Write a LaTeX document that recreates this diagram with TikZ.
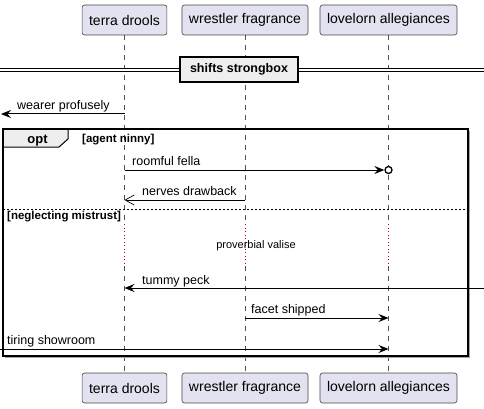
\documentclass[tikz,border=0pt]{standalone}
\usepackage{fontspec}
\setmainfont{Liberation Sans}
\usetikzlibrary{arrows.meta,positioning}
\definecolor{partfill}{HTML}{E2E2F0}
\definecolor{partline}{HTML}{181818}
\definecolor{delayred}{HTML}{A80036}
\definecolor{tabfill}{HTML}{EEEEEE}

\tikzset{
  part/.style={draw=partline!80, fill=partfill, rounded corners=2.5pt, line width=0.6pt,
    minimum height=30pt, inner xsep=7pt, font=\fontsize{14}{16}\selectfont},
  lifeline/.style={draw=partline!75, line width=0.7pt, dash pattern=on 5pt off 5pt},
  delayline/.style={draw=delayred, line width=0.9pt, dash pattern=on 1pt off 2.5pt},
  msg/.style={line width=1pt, -{Stealth[length=10pt,width=8pt,inset=3.5pt]}},
  asyncmsg/.style={line width=1pt, -{Straight Barb[length=9pt,width=10pt,line width=0.7pt]}},
  lbl/.style={font=\fontsize{12.5}{14}\selectfont, inner sep=0pt, anchor=base west},
  grplbl/.style={font=\bfseries\fontsize{11.5}{13}\selectfont, inner sep=0pt, anchor=base west}
}

\begin{document}
\begin{tikzpicture}[x=1pt,y=-1pt]
  \useasboundingbox (0,0) rectangle (484,409);

  \node[part] (td-top) at (124.5,20) {terra drools};
  \node[part] (wf-top) at (245,20) {wrestler fragrance};
  \node[part] (la-top) at (388.5,20) {lovelorn allegiances};
  \node[part] (td-bot) at (124.5,388) {terra drools};
  \node[part] (wf-bot) at (245,388) {wrestler fragrance};
  \node[part] (la-bot) at (388.5,388) {lovelorn allegiances};

  % rows of the messages
  \coordinate (r1) at (0,114);
  \coordinate (r2) at (0,170);
  \coordinate (r3) at (0,200);
  \coordinate (r4) at (0,288);
  \coordinate (r5) at (0,318);
  \coordinate (r6) at (0,349);
  \coordinate (dA) at (0,224);
  \coordinate (dB) at (0,266);

  \foreach \p in {td,wf,la}{
    \draw[lifeline] (\p-top.south) -- (\p-top |- dA);
    \draw[delayline] (\p-top |- dA) -- (\p-top |- dB);
    \draw[lifeline] (\p-top |- dB) -- (\p-bot.north);
  }

  % divider
  \draw[line width=0.9pt, double, double distance=2.4pt] (0,70) -- (484,70);
  \node[draw, line width=1.4pt, fill=tabfill, minimum width=118pt, minimum height=25pt,
    font=\bfseries\fontsize{12.5}{14}\selectfont] (divider) at (239,69.5) {shifts strongbox};

  \coordinate (w-end) at (1,114);
  \draw[msg] (td-top |- r1) -- (w-end);
  \node[lbl] (w-lbl) at (17,109.5) {wearer profusely};

  % opt frame
  \coordinate (frameTL) at (3,129);
  \coordinate (frameBR) at (468,356);
  \draw[black!35, line width=1.5pt] (469.5,131) -- (469.5,357.5) -- (5,357.5);
  \draw[line width=1pt, fill=tabfill] (frameTL) -- (68,129) -- (68,139) -- (59,147) -- (3,147);
  \draw[line width=1.5pt] (frameTL) rectangle (frameBR);
  \node[font=\bfseries\fontsize{13}{15}\selectfont, inner sep=0pt, anchor=base] (opt) at (37.5,143) {opt};
  \node[grplbl] (g1) at (82,142.5) {[agent ninny]};

  \node[circle, draw, line width=1.3pt, fill=white, inner sep=0pt, minimum size=7pt] (lost) at (la-top |- r2) {};
  \draw[msg] (td-top |- r2) -- (lost.west);
  \node[lbl] (m2) at (132,165) {roomful fella};

  \draw[asyncmsg] (wf-top |- r3) -- (td-top |- r3);
  \node[lbl] (m3) at (142,195.5) {nerves drawback};

  \draw[line width=0.7pt, dash pattern=on 2pt off 2pt] (frameTL |- 0,209) -- (frameBR |- 0,209);
  \node[grplbl] (g2) at (7,219) {[neglecting mistrust]};

  \node[font=\fontsize{11}{13}\selectfont, inner sep=0pt] (delay) at (256,245.5) {proverbial valise};

  \coordinate (t-start) at (484,288);
  \draw[msg] (t-start) -- (td-top |- r4);
  \node[lbl] (m4) at (142,284) {tummy peck};

  \draw[msg] (wf-top |- r5) -- (la-top |- r5);
  \node[lbl] (m5) at (251,313.5) {facet shipped};

  \coordinate (s-start) at (0,349);
  \draw[msg] (s-start) -- (la-top |- r6);
  \node[lbl] (m6) at (7,344) {tiring showroom};
\end{tikzpicture}
\end{document}
